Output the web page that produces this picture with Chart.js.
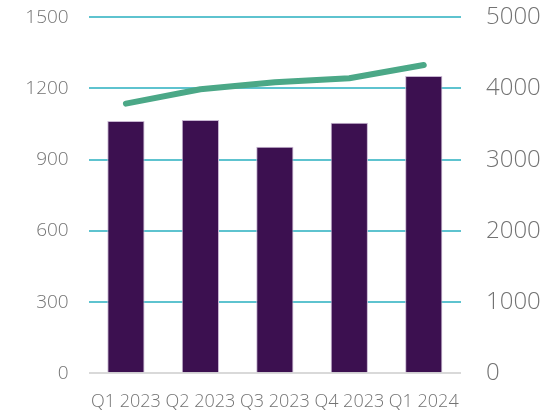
<!DOCTYPE html>
<html>
<head>
<meta charset="utf-8">
<script src="https://cdn.jsdelivr.net/npm/chart.js@4"></script>
<style>
  body { margin: 0; background: #fff; }
</style>
</head>
<body>
<canvas id="myChart" width="548" height="412"></canvas>
<script>
var labels = ["Q1 2023", "Q2 2023", "Q3 2023", "Q4 2023", "Q1 2024"];
var barValues = [1063, 1067, 955, 1056, 1253];
var lineValues = [3787, 3989, 4087, 4143, 4330];
var leftTicks = [0, 300, 600, 900, 1200, 1500];
var rightTicks = [0, 1000, 2000, 3000, 4000, 5000];

var grey = "#737373";

function fixTicks(list) {
  return function (scale) {
    scale.ticks = list.map(function (v) { return { value: v }; });
  };
}

function plain(v) {
  return String(v);
}

// fixed sizes so the plot area lands where the original has it
function fitSide(w) {
  return function (scale) {
    scale.width = w;
    scale.paddingTop = 17.3;
    scale.paddingBottom = 0;
  };
}

var ctx = document.getElementById("myChart").getContext("2d");
var myChart = new Chart(ctx, {
  data: {
    labels: labels,
    datasets: [
      {
        type: "line",
        data: lineValues,
        yAxisID: "y2",
        borderColor: "#4ba887",
        borderWidth: 6,
        borderCapStyle: "round",
        borderJoinStyle: "round",
        pointRadius: 0,
        tension: 0,
        order: 0,
      },
      {
        type: "bar",
        data: barValues,
        yAxisID: "y",
        backgroundColor: "#3c1050",
        borderColor: "#c8b6d2",
        borderWidth: 1,
        barPercentage: 0.5,
        categoryPercentage: 1,
        order: 1,
      },
    ],
  },
  options: {
    responsive: false,
    animation: false,
    layout: { padding: 0 },
    plugins: { legend: { display: false }, tooltip: { enabled: false } },
    scales: {
      x: {
        grid: { display: false },
        border: { display: false },
        ticks: {
          color: grey,
          font: { family: "Open Sans", size: 18, weight: 300 },
          padding: 10,
          maxRotation: 0,
          autoSkip: false,
        },
        afterFit: function (scale) {
          scale.height = 38.7;
          scale.paddingLeft = 0;
          scale.paddingRight = 0;
        },
      },
      y: {
        position: "left",
        min: 0,
        max: 1500,
        afterBuildTicks: fixTicks(leftTicks),
        grid: {
          drawTicks: false,
          lineWidth: 2,
          color: function (c) {
            return c.tick && c.tick.value === 0 ? "#d9d9d9" : "#5ec3cf";
          },
        },
        border: { display: false },
        ticks: {
          color: grey,
          font: { family: "Open Sans", size: 19, weight: 300 },
          padding: 20,
          callback: plain,
        },
        afterFit: fitSide(88.7),
      },
      y2: {
        position: "right",
        min: 0,
        max: 5000,
        afterBuildTicks: fixTicks(rightTicks),
        grid: { display: false, drawTicks: false },
        border: { display: false },
        ticks: {
          color: grey,
          font: { family: "Open Sans", size: 24, weight: 300 },
          padding: 25,
          callback: plain,
        },
        afterFit: fitSide(87),
      },
    },
  },
});
</script>
</body>
</html>
